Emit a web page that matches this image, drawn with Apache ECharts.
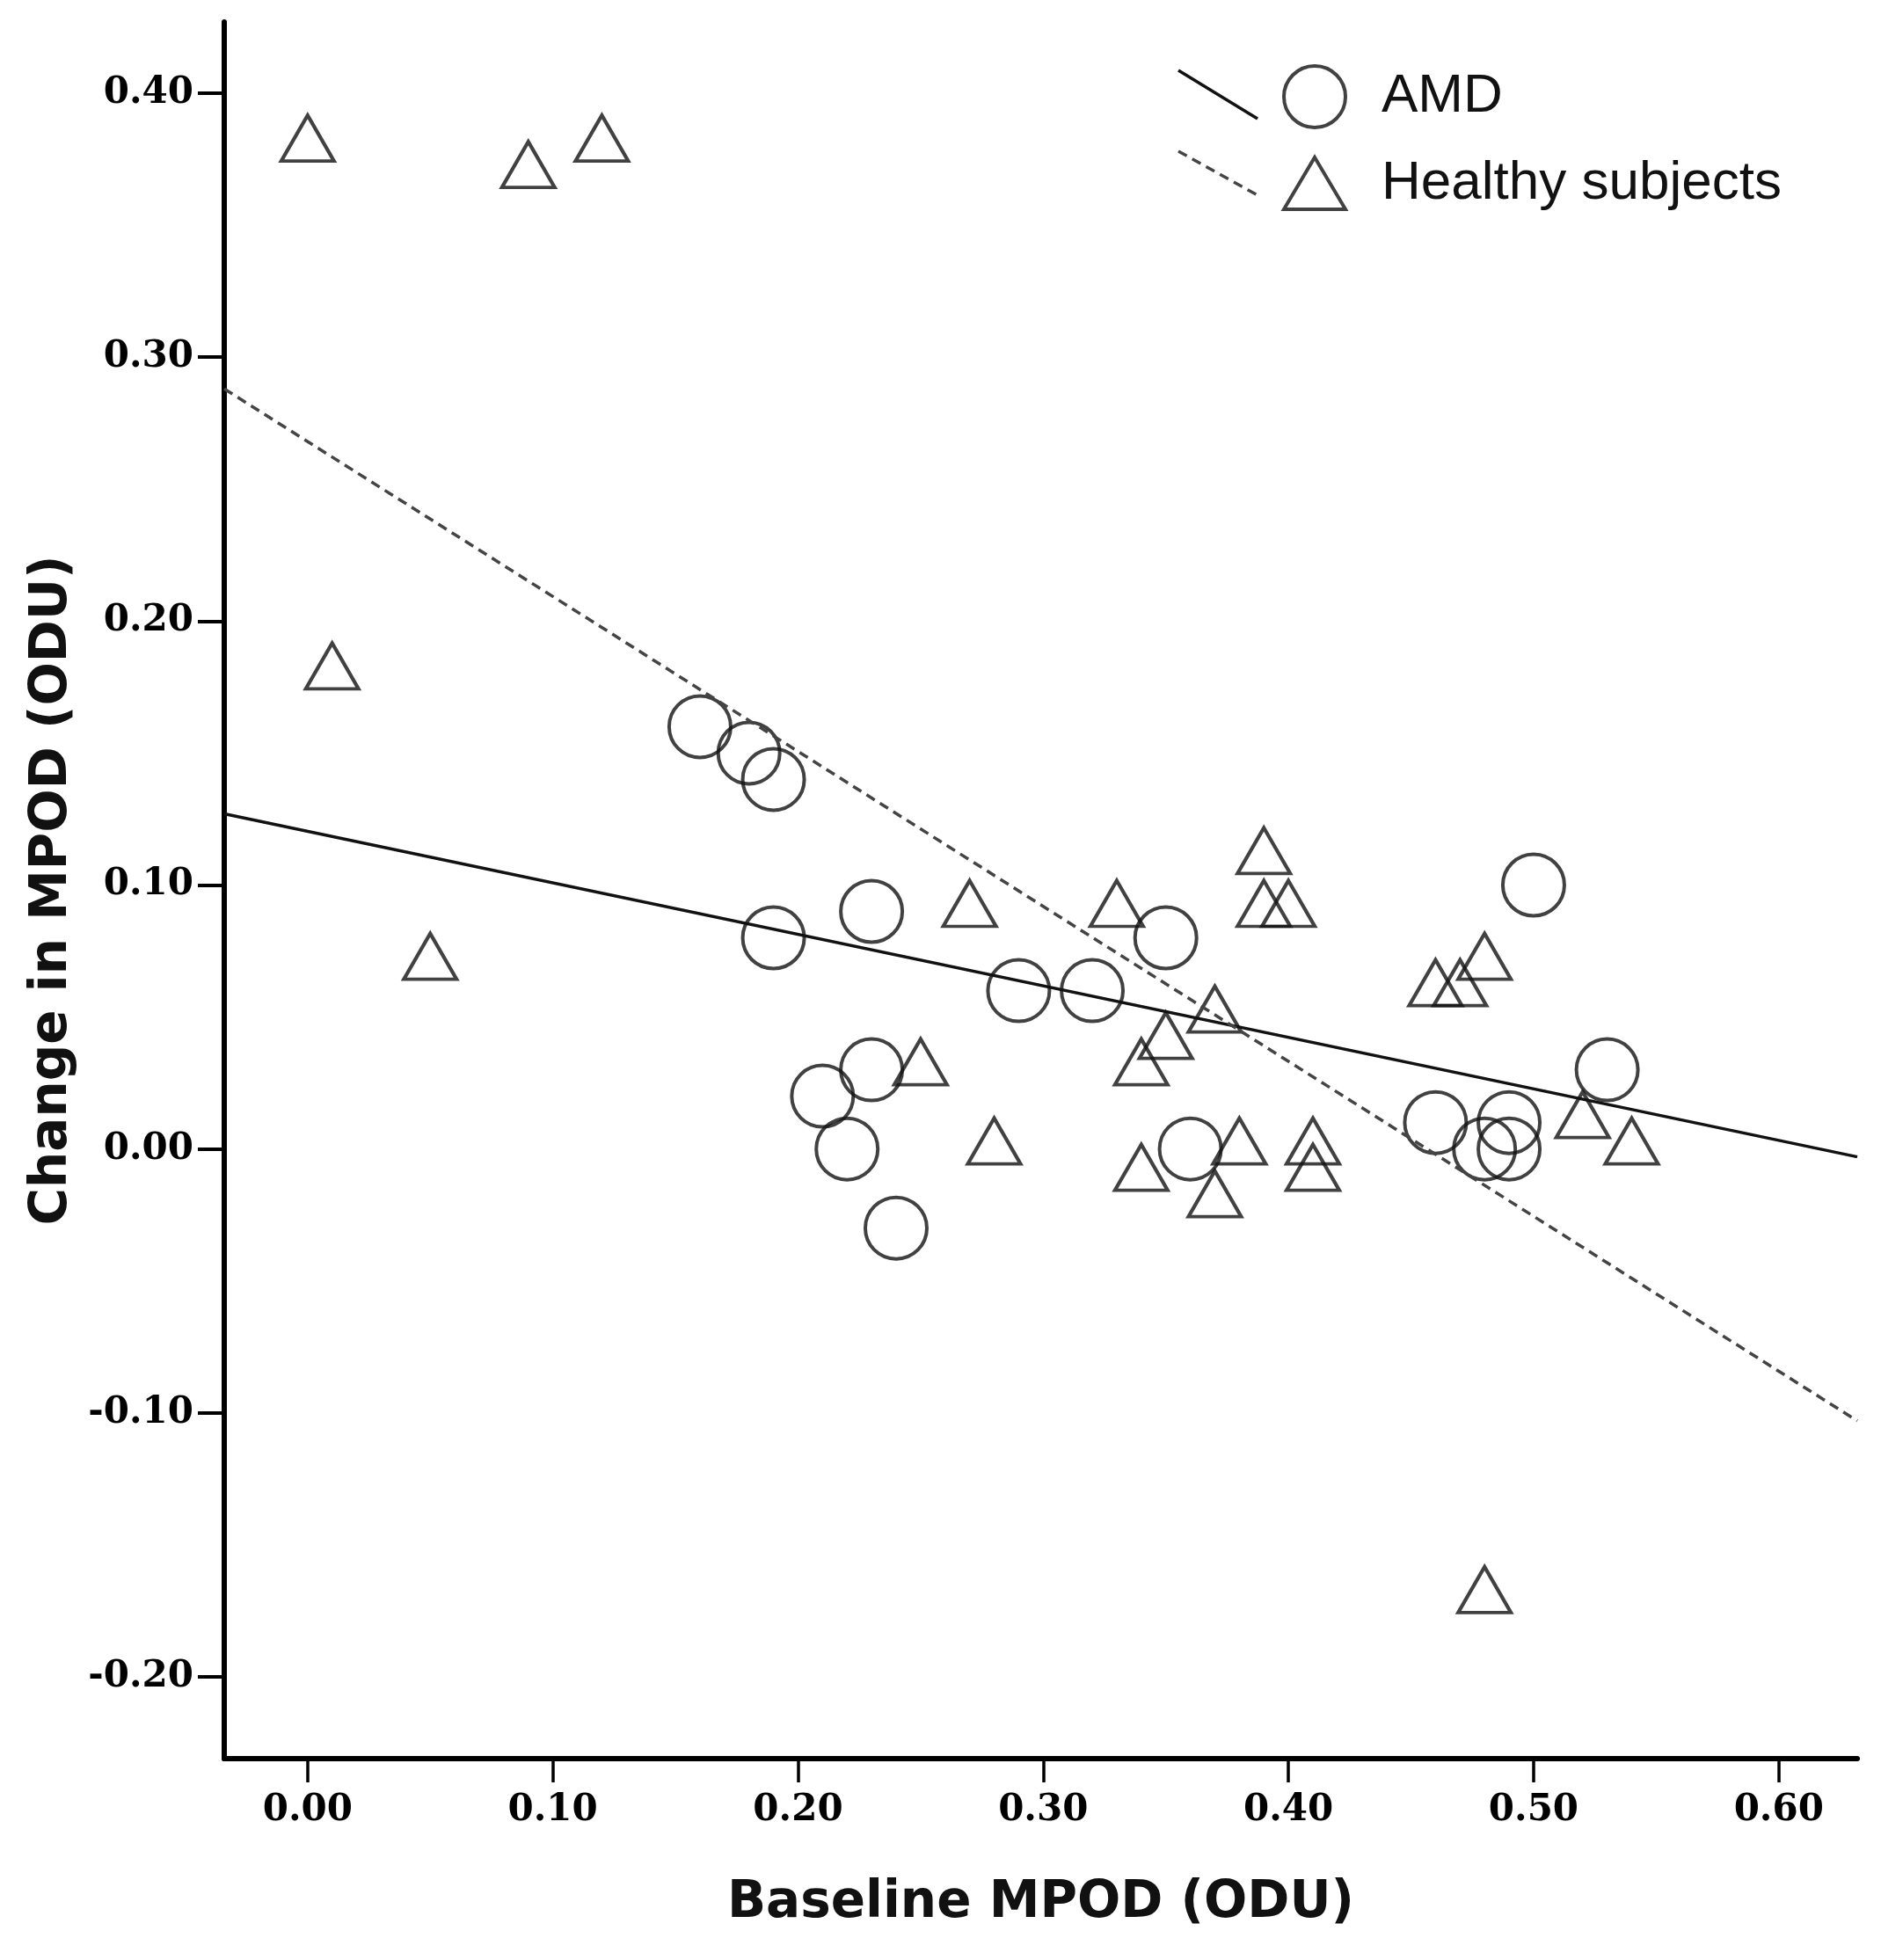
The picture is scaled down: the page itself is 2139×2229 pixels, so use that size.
<!DOCTYPE html>
<html>
<head>
<meta charset="utf-8">
<title>Baseline MPOD vs change in MPOD</title>
<script src="https://cdn.jsdelivr.net/npm/echarts@6.0.0/dist/echarts.min.js"></script>
<style>
	html, body { margin: 0; padding: 0; background: #fff; }
	#container { width: 2139px; height: 2229px; }
</style>
</head>
<body>
<div id="container"></div>
<script>
	// tick positions on both axes
	var xTicks = [0, 0.1, 0.2, 0.3, 0.4, 0.5, 0.6];
	var yTicks = [-0.2, -0.1, 0, 0.1, 0.2, 0.3, 0.4];

	// [baseline MPOD, change in MPOD]
	var amdPoints = [
		[0.16, 0.16], [0.18, 0.15], [0.19, 0.14], [0.19, 0.08], [0.23, 0.09],
		[0.21, 0.02], [0.23, 0.03], [0.22, 0.00], [0.24, -0.03], [0.29, 0.06],
		[0.32, 0.06], [0.35, 0.08], [0.36, 0.00], [0.46, 0.01], [0.48, 0.00],
		[0.49, 0.01], [0.49, 0.00], [0.50, 0.10], [0.53, 0.03]
	];
	var healthyPoints = [
		[0.00, 0.38], [0.09, 0.37], [0.12, 0.38], [0.01, 0.18], [0.05, 0.07],
		[0.27, 0.09], [0.33, 0.09], [0.39, 0.11], [0.39, 0.09], [0.40, 0.09],
		[0.25, 0.03], [0.28, 0.00], [0.34, 0.03], [0.35, 0.04], [0.37, 0.05],
		[0.34, -0.01], [0.37, -0.02], [0.38, 0.00], [0.41, 0.00], [0.41, -0.01],
		[0.46, 0.06], [0.47, 0.06], [0.48, 0.07], [0.52, 0.01], [0.54, 0.00],
		[0.48, -0.17]
	];

	// fit lines, end points at the axis limits
	var amdFit = [[-0.034, 0.127], [0.632, -0.003]];
	var healthyFit = [[-0.034, 0.288], [0.632, -0.103]];

	var chart = echarts.init(document.getElementById('container'));

	var tickLabel = {
		fontFamily: 'DejaVu Serif',
		fontWeight: 'bold',
		fontSize: 42,
		color: '#000',
		formatter: function (v) { return v.toFixed(2); }
	};
	var axisTitle = {
		fontFamily: 'DejaVu Sans',
		fontWeight: 'bold',
		fontSize: 58,
		color: '#111'
	};
	var hollow = { color: 'transparent', borderColor: '#111', borderWidth: 4 };

	var options = {
		animation: false,
		backgroundColor: '#fff',
		grid: { left: 255, right: 27, top: 25, bottom: 229 },

		legend: {
			orient: 'vertical',
			left: 1453,
			top: 68,
			itemWidth: 70,
			itemHeight: 70,
			itemGap: 30,
			selectedMode: false,
			data: [
				{ name: 'AMD', icon: 'circle' },
				{ name: 'Healthy subjects', icon: 'path://M32,0L64,54L0,54Z' }
			],
			itemStyle: hollow,
			textStyle: {
				fontFamily: 'Liberation Sans',
				fontSize: 62,
				color: '#111',
				padding: [0, 0, 0, 36]
			}
		},

		// the slanted line keys next to the legend symbols
		graphic: [
			{ type: 'line', shape: { x1: 1340, y1: 80, x2: 1430, y2: 135 },
				style: { stroke: '#111', lineWidth: 3.5 } },
			{ type: 'line', shape: { x1: 1340, y1: 172, x2: 1430, y2: 222 },
				style: { stroke: '#444', lineWidth: 3.5, lineDash: [11, 7] } }
		],

		xAxis: {
			type: 'value',
			min: -0.034,
			max: 0.632,
			name: 'Baseline MPOD (ODU)',
			nameLocation: 'middle',
			nameGap: 136,
			nameTextStyle: axisTitle,
			axisLine: { show: true, onZero: false, lineStyle: { color: '#000', width: 6 } },
			axisTick: { show: true, customValues: xTicks, length: 27, lineStyle: { color: '#000', width: 3.5 } },
			axisLabel: Object.assign({ customValues: xTicks, margin: 38 }, tickLabel),
			splitLine: { show: false }
		},

		yAxis: {
			type: 'value',
			min: -0.231,
			max: 0.427,
			name: 'Change in MPOD (ODU)',
			nameLocation: 'middle',
			nameGap: 165,
			nameTextStyle: axisTitle,
			axisLine: { show: true, onZero: false, lineStyle: { color: '#000', width: 6 } },
			axisTick: { show: true, customValues: yTicks, length: 30, lineStyle: { color: '#000', width: 4 } },
			axisLabel: Object.assign({ customValues: yTicks, margin: 35 }, tickLabel),
			splitLine: { show: false }
		},

		series: [
			{
				name: 'AMD fit',
				type: 'line',
				data: amdFit,
				showSymbol: false,
				silent: true,
				lineStyle: { color: '#111', width: 3.5 }
			},
			{
				name: 'Healthy fit',
				type: 'line',
				data: healthyFit,
				showSymbol: false,
				silent: true,
				lineStyle: { color: '#444', width: 3.5, type: [11, 7] }
			},
			{
				name: 'AMD',
				type: 'scatter',
				data: amdPoints,
				symbol: 'circle',
				symbolSize: 70,
				itemStyle: hollow
			},
			{
				name: 'Healthy subjects',
				type: 'scatter',
				data: healthyPoints,
				symbol: 'triangle',
				symbolSize: [60, 52],
				symbolOffset: [0, -9],				// put the centroid on the point
				itemStyle: hollow
			}
		]
	};

	chart.setOption(options);
</script>
</body>
</html>
